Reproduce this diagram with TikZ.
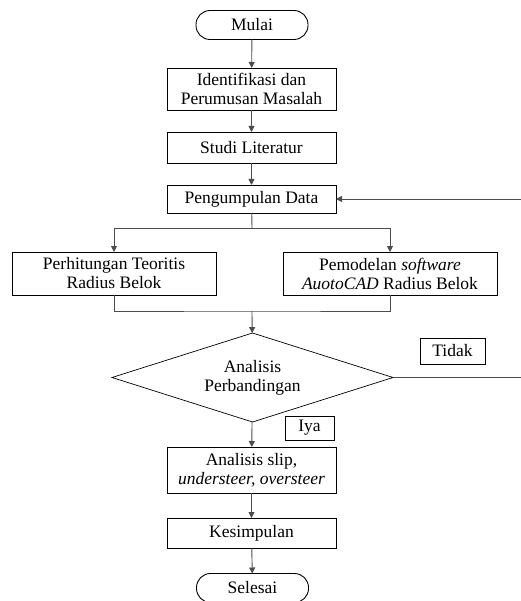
\documentclass[tikz,border=0pt]{standalone}
\usepackage{fontspec}
\setmainfont{Liberation Serif}
\usetikzlibrary{arrows.meta,shapes.geometric}

\begin{document}
\begin{tikzpicture}[x=1pt, y=-1pt,
  box/.style={draw, line width=0.9pt, minimum width=169pt, minimum height=29pt, align=center, inner sep=2pt, outer sep=0pt},
  term/.style={box, rounded corners=14pt, minimum width=112pt},
  decide/.style={draw, diamond, aspect=3.16, minimum width=281pt, minimum height=89pt, align=center, inner sep=1pt, outer sep=0pt, line width=0.7pt},
  tag/.style={draw, line width=0.9pt, inner sep=3pt, outer sep=0pt},
  arrow/.style={-{Triangle[length=6pt,width=6pt]}, line width=0.9pt, black!70},
  line/.style={line width=0.9pt, black!70},
  font=\fontsize{17.5}{19}\selectfont
]
  \useasboundingbox (0,0) rectangle (520,601);

  \node[term] (mulai) at (252,25) {Mulai};
  \node[box, minimum height=42pt] (ident) at (251.5,89) {Identifikasi dan\\Perumusan Masalah};
  \node[box, minimum height=31pt] (studi) at (251.5,147.5) {Studi Literatur};
  \node[box, minimum height=28pt] (data) at (251.5,199) {Pengumpulan Data};
  \node[box, minimum width=204pt, minimum height=43pt] (teori) at (114,273.5) {Perhitungan Teoritis\\Radius Belok};
  \node[box, minimum width=214pt, minimum height=43pt] (cad) at (390,273.5) {Pemodelan \textit{software}\\\textit{AuotoCAD} Radius Belok};
  \node[decide] (banding) at (252.5,377.5) {Analisis\\Perbandingan};
  \node[tag, minimum width=65pt, minimum height=26pt] (tidak) at (452.5,351) {Tidak};
  \node[tag, minimum width=49pt, minimum height=24pt] (iya) at (309.5,428) {Iya};
  \node[box, minimum height=46pt] (slip) at (251.5,470) {Analisis slip,\\\textit{understeer, oversteer}};
  \node[box, minimum height=30pt] (simpul) at (251.5,533) {Kesimpulan};
  \node[term] (selesai) at (252.5,588) {Selesai};

  \coordinate (split) at (252,228);
  \coordinate (join) at (252,311);
  \coordinate (back) at (522,377.5);

  \draw[arrow] (mulai) -- (ident);
  \draw[arrow] (ident) -- (studi);
  \draw[arrow] (studi) -- (data);
  \draw[line] (data) -- (split);
  \draw[arrow] (split) -| (teori);
  \draw[arrow] (split) -| (cad);
  \draw[line] (teori) |- (join) -| (cad);
  \draw[arrow] (join) -- (banding);
  \draw[arrow] (banding) -- (back) |- (data);
  \draw[arrow] (banding) -- (slip);
  \draw[arrow] (slip) -- (simpul);
  \draw[arrow] (simpul) -- (selesai);
\end{tikzpicture}
\end{document}
